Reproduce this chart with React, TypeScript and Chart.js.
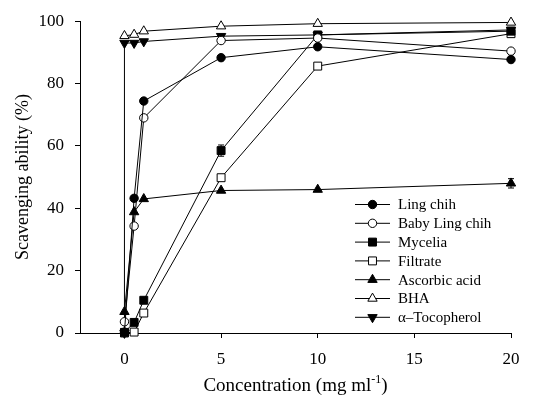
import React, { useEffect, useRef } from 'react';
import { Chart, registerables } from 'chart.js';

Chart.register(...registerables);

// ---- data ----
const concentrations = [0, 0.5, 1, 5, 10, 20];
const tocoConcentrations = [0, 0, 0.5, 1, 5, 10, 20];
const lingChih = [0.3, 43.2, 74.4, 88.3, 91.8, 87.7];
const babyLingChih = [3.6, 34.3, 69.0, 93.8, 94.6, 90.4];
const mycelia = [0.2, 3.4, 10.5, 58.5, 95.6, 96.8];
const myceliaErr = [0, 0, 0.8, 1.8, 0, 0];
const filtrate = [0.0, 0.3, 6.4, 49.8, 85.6, 96.0];
const ascorbicAcid = [6.8, 38.8, 43.0, 45.7, 46.0, 48.0];
const ascorbicErr = [0, 0, 0, 0, 0, 1.5];
const bha = [95.3, 95.7, 96.8, 98.4, 99.2, 99.6];
const tocopherol = [0, 93.0, 93.0, 93.5, 95.2, 95.6, 97.2];
const xTicks = [0, 5, 10, 15, 20];
const seriesLabels = ['Ling chih', 'Baby Ling chih', 'Mycelia', 'Filtrate', 'Ascorbic acid', 'BHA', '\u03b1\u2013Tocopherol'];

const FONT = '"Liberation Serif", "Times New Roman", serif';

function pts(xs: number[], ys: number[]) {
  return xs.map((x, i) => ({ x, y: ys[i] }));
}

function drawMarker(ctx: CanvasRenderingContext2D, style: string, x: number, y: number, r: number, fill: string, rot: number) {
  ctx.save();
  ctx.beginPath();
  if (style === 'circle') {
    ctx.arc(x, y, r, 0, Math.PI * 2);
  } else if (style === 'rect') {
    const s = Math.SQRT1_2 * r;
    ctx.rect(x - s, y - s, 2 * s, 2 * s);
  } else {
    let rad = (rot * Math.PI) / 180;
    ctx.moveTo(x + Math.sin(rad) * r, y - Math.cos(rad) * r);
    rad += (2 * Math.PI) / 3;
    ctx.lineTo(x + Math.sin(rad) * r, y - Math.cos(rad) * r);
    rad += (2 * Math.PI) / 3;
    ctx.lineTo(x + Math.sin(rad) * r, y - Math.cos(rad) * r);
    ctx.closePath();
  }
  ctx.fillStyle = fill;
  ctx.fill();
  ctx.lineWidth = 1;
  ctx.strokeStyle = '#000';
  ctx.stroke();
  ctx.restore();
}

const overlayPlugin = {
  id: 'overlay',
  afterDatasetsDraw(chart: any) {
    const ctx = chart.ctx as CanvasRenderingContext2D;
    const yScale = chart.scales.y;
    chart.data.datasets.forEach((ds: any, i: number) => {
      if (!ds.errors) return;
      const meta = chart.getDatasetMeta(i);
      ds.errors.forEach((e: number, j: number) => {
        if (!e) return;
        const p = meta.data[j];
        const v = ds.data[j].y;
        const yTop = yScale.getPixelForValue(v + e);
        const yBot = yScale.getPixelForValue(v - e);
        ctx.save();
        ctx.strokeStyle = '#000';
        ctx.lineWidth = 1;
        ctx.beginPath();
        ctx.moveTo(p.x, yTop);
        ctx.lineTo(p.x, yBot);
        ctx.moveTo(p.x - 3, yTop);
        ctx.lineTo(p.x + 3, yTop);
        ctx.moveTo(p.x - 3, yBot);
        ctx.lineTo(p.x + 3, yBot);
        ctx.stroke();
        ctx.restore();
      });
    });
  },
  afterDraw(chart: any) {
    const ctx = chart.ctx as CanvasRenderingContext2D;
    const area = chart.chartArea;
    ctx.save();
    ctx.fillStyle = '#000';
    // y title
    ctx.save();
    ctx.translate(23, (area.top + area.bottom) / 2);
    ctx.rotate(-Math.PI / 2);
    ctx.font = '18px ' + FONT;
    ctx.textAlign = 'center';
    ctx.textBaseline = 'middle';
    ctx.fillText('Scavenging ability (%)', 0, 0);
    ctx.restore();
    // x title with superscript
    const main = 'Concentration (mg ml';
    const sup = '-1';
    const end = ')';
    ctx.font = '19px ' + FONT;
    const wMain = ctx.measureText(main).width;
    const wEnd = ctx.measureText(end).width;
    ctx.font = '12px ' + FONT;
    const wSup = ctx.measureText(sup).width;
    const total = wMain + wSup + wEnd;
    let x = (area.left + area.right) / 2 - total / 2;
    const base = 391;
    ctx.textAlign = 'left';
    ctx.textBaseline = 'alphabetic';
    ctx.font = '19px ' + FONT;
    ctx.fillText(main, x, base);
    x += wMain;
    ctx.font = '12px ' + FONT;
    ctx.fillText(sup, x, base - 8);
    x += wSup;
    ctx.font = '19px ' + FONT;
    ctx.fillText(end, x, base);
    // legend
    const x0 = 355;
    const x1 = 390;
    const tx = 398;
    const y0 = 204.5;
    const step = 18.8;
    chart.data.datasets.forEach((ds: any, i: number) => {
      const y = y0 + i * step;
      ctx.save();
      ctx.strokeStyle = '#000';
      ctx.lineWidth = 1;
      ctx.beginPath();
      ctx.moveTo(x0, y);
      ctx.lineTo(x1, y);
      ctx.stroke();
      ctx.restore();
      drawMarker(ctx, ds.pointStyle, (x0 + x1) / 2, y, ds.pointRadius, ds.pointBackgroundColor, ds.pointRotation || 0);
      ctx.font = '15px ' + FONT;
      ctx.fillStyle = '#000';
      ctx.textAlign = 'left';
      ctx.textBaseline = 'middle';
      ctx.fillText(ds.label, tx, y + 1);
    });
    ctx.restore();
  },
};

function makeDataset(label: string, data: any[], style: string, fill: string, radius: number, rot = 0, errors?: number[]) {
  return {
    label,
    data,
    borderColor: '#000',
    borderWidth: 1,
    pointStyle: style,
    pointRadius: radius,
    pointHoverRadius: radius,
    pointRotation: rot,
    pointBackgroundColor: fill,
    pointBorderColor: '#000',
    pointBorderWidth: 1,
    backgroundColor: fill,
    showLine: true,
    fill: false,
    tension: 0,
    clip: false,
    errors,
  } as any;
}

export default function App() {
  const ref = useRef<HTMLCanvasElement | null>(null);
  useEffect(() => {
    if (!ref.current) return;
    const datasets = [
      makeDataset(seriesLabels[0], pts(concentrations, lingChih), 'circle', '#000', 4.2),
      makeDataset(seriesLabels[1], pts(concentrations, babyLingChih), 'circle', '#fff', 4.2),
      makeDataset(seriesLabels[2], pts(concentrations, mycelia), 'rect', '#000', 5.6, 0, myceliaErr),
      makeDataset(seriesLabels[3], pts(concentrations, filtrate), 'rect', '#fff', 5.6),
      makeDataset(seriesLabels[4], pts(concentrations, ascorbicAcid), 'triangle', '#000', 5.4, 0, ascorbicErr),
      makeDataset(seriesLabels[5], pts(concentrations, bha), 'triangle', '#fff', 5.4),
      makeDataset(seriesLabels[6], pts(tocoConcentrations, tocopherol), 'triangle', '#000', 5.4, 180),
    ];
    const tickFont = { family: FONT, size: 17 };
    const chart = new Chart(ref.current, {
      type: 'scatter',
      data: { datasets },
      options: {
        animation: false,
        responsive: true,
        maintainAspectRatio: false,
        layout: { padding: { top: 20, right: 28, left: 0, bottom: 0 } },
        plugins: { legend: { display: false }, tooltip: { enabled: false } },
        scales: {
          x: {
            type: 'linear',
            min: -2.3,
            max: 20,
            afterBuildTicks: (scale: any) => {
              scale.ticks = xTicks.map((v) => ({ value: v }));
            },
            afterFit: (scale: any) => {
              scale.height = 64;
            },
            grid: { display: true, drawOnChartArea: false, drawTicks: true, tickLength: 5, color: '#000', lineWidth: 1 },
            border: { display: true, color: '#000', width: 1 },
            ticks: { color: '#000', font: tickFont, padding: 11, maxRotation: 0, autoSkip: false },
            title: { display: false },
          },
          y: {
            type: 'linear',
            min: 0,
            max: 100,
            afterFit: (scale: any) => {
              scale.width = 80;
            },
            grid: { display: true, drawOnChartArea: false, drawTicks: true, tickLength: 5, color: '#000', lineWidth: 1 },
            border: { display: true, color: '#000', width: 1 },
            ticks: { color: '#000', font: tickFont, padding: 11, stepSize: 20 },
            title: { display: false },
          },
        },
      },
      plugins: [overlayPlugin],
    } as any);
    return () => chart.destroy();
  }, []);
  return (
    <div style={{ position: 'fixed', left: 0, top: 0, width: 539, height: 397, background: '#fff' }}>
      <canvas ref={ref} />
    </div>
  );
}
